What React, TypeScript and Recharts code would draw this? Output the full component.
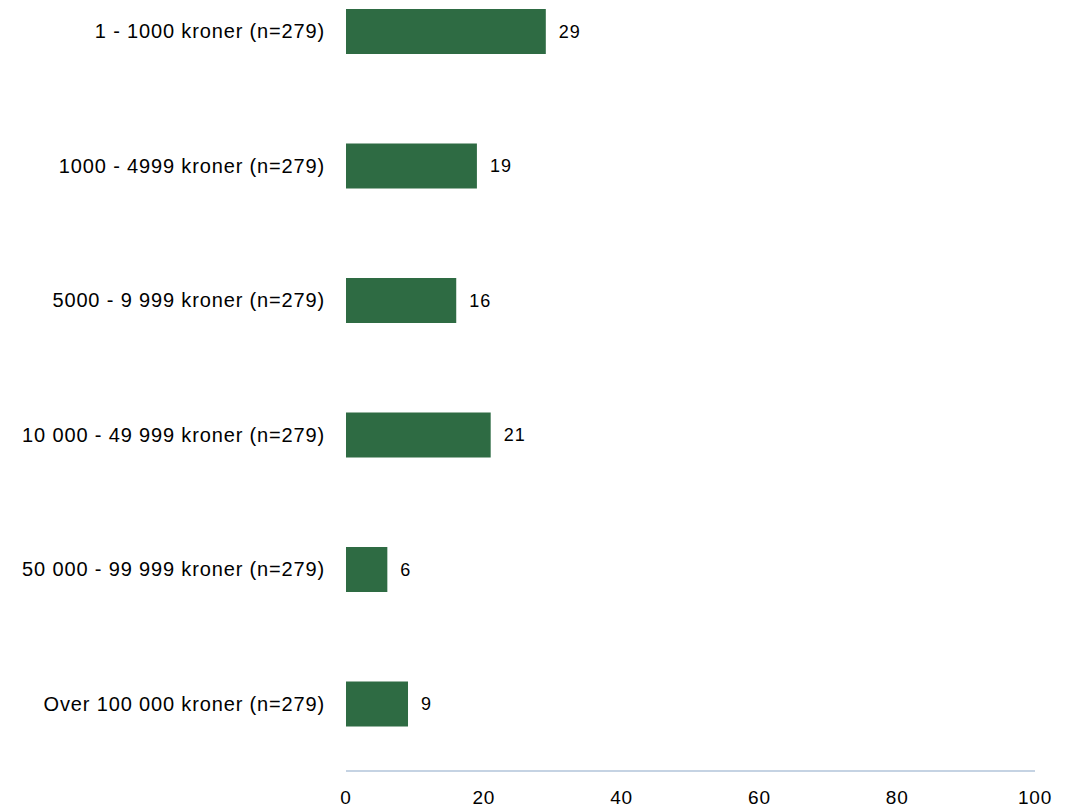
import { BarChart, Bar, XAxis, YAxis, LabelList } from 'recharts';

const categories = [
  '1 - 1000 kroner (n=279)',
  '1000 - 4999 kroner (n=279)',
  '5000 - 9 999 kroner (n=279)',
  '10 000 - 49 999 kroner (n=279)',
  '50 000 - 99 999 kroner (n=279)',
  'Over 100 000 kroner (n=279)',
];
const values = [29, 19, 16, 21, 6, 9];
const xTicks = [0, 20, 40, 60, 80, 100];

const data = categories.map((name, i) => ({ name, value: values[i] }));

export default function App() {
  return (
    <div style={{ position: 'absolute', left: 0, top: -36, fontFamily: 'Liberation Sans, Arial, sans-serif' }}>
      <BarChart
        layout="vertical"
        width={1081}
        height={845}
        data={data}
        margin={{ top: 0, right: 46, left: 0, bottom: 0 }}
      >
        <XAxis
          type="number"
          domain={[0, 100]}
          ticks={xTicks}
          height={38}
          tickLine={false}
          tickSize={0}
          tickMargin={20}
          axisLine={{ stroke: '#c5d3e3', strokeWidth: 2 }}
          tick={{ fill: '#000', fontSize: 19, letterSpacing: 0.8 }}
        />
        <YAxis
          type="category"
          dataKey="name"
          width={346}
          axisLine={false}
          tickLine={false}
          tickSize={0}
          tickMargin={21}
          tick={{ fill: '#000', fontSize: 20, letterSpacing: 0.85 }}
        />
        <Bar dataKey="value" fill="#2e6b43" barSize={45} isAnimationActive={false}>
          <LabelList dataKey="value" position="right" offset={13} fill="#000" fontSize={18} letterSpacing={1} />
        </Bar>
      </BarChart>
    </div>
  );
}
